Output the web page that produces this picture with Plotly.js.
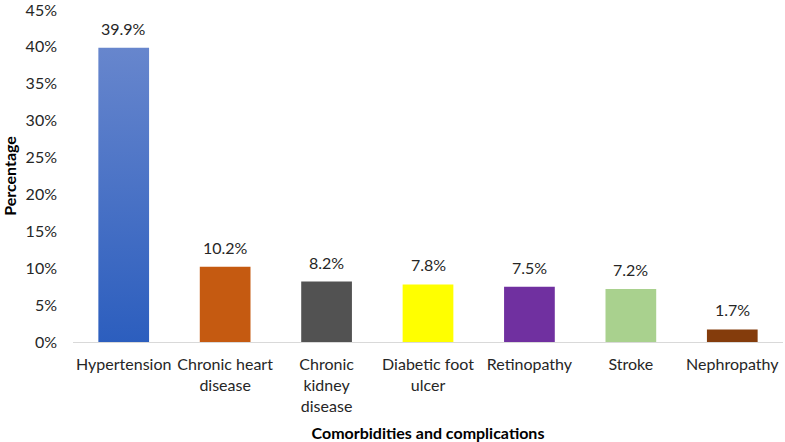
<!DOCTYPE html>
<html><head><meta charset="utf-8">
<script src="https://cdn.plot.ly/plotly-3.0.1.min.js"></script>
<style>html,body{margin:0;padding:0;background:#fff}#chart{width:785px;height:442px}</style>
</head><body><div id="chart"></div>
<script>
const categories = ["Hypertension", "Chronic heart<br>disease", "Chronic<br>kidney<br>disease", "Diabetic foot<br>ulcer", "Retinopathy", "Stroke", "Nephropathy"];
const values = [39.9, 10.2, 8.2, 7.8, 7.5, 7.2, 1.7];
const valueLabels = ["39.9%", "10.2%", "8.2%", "7.8%", "7.5%", "7.2%", "1.7%"];
const barColors = ["#4a76cc", "#c55a11", "#525252", "#ffff00", "#7030a0", "#a9d18e", "#843c0c"];
const tickVals = [0, 5, 10, 15, 20, 25, 30, 35, 40, 45];
const tickText = ["0%", "5%", "10%", "15%", "20%", "25%", "30%", "35%", "40%", "45%"];

const font = {family: "Lato, 'Open Sans', sans-serif", size: 16, color: "#262626"};
const titleFont = {family: font.family, size: 16, color: "#000"};

const trace = {
  type: "bar", x: categories, y: values,
  marker: {color: barColors, line: {width: 0}},
  hoverinfo: "none"
};
const annotations = categories.map((c, i) => ({
  x: c, y: values[i], text: valueLabels[i], showarrow: false,
  yanchor: "bottom", yshift: 8, font: font
}));
const layout = {
  width: 785, height: 442,
  margin: {l: 73, r: 2, t: 10, b: 100},
  paper_bgcolor: "#fff", plot_bgcolor: "#fff",
  font: font, showlegend: false, bargap: 0.5,
  xaxis: {showline: true, linecolor: "#d9d9d9", linewidth: 1, ticks: "outside", ticklen: 8,
    tickcolor: "rgba(0,0,0,0)", tickfont: font,
    title: {text: "<b>Comorbidities and complications</b>", font: titleFont, standoff: 14}},
  yaxis: {range: [0, 45], tickvals: tickVals, ticktext: tickText, showgrid: false, zeroline: false,
    showline: false, ticks: "", tickfont: font, ticklabelstandoff: 15, ticklabeloverflow: "allow",
    title: {text: "<b>Percentage</b>", font: titleFont, standoff: 6}},
  annotations: annotations
};
Plotly.newPlot("chart", [trace], layout, {displayModeBar: false, staticPlot: true}).then(gd => {
  const svg = gd.querySelector("svg.main-svg");
  const ns = "http://www.w3.org/2000/svg";
  let defs = svg.querySelector("defs");
  const g = document.createElementNS(ns, "linearGradient");
  g.setAttribute("id", "blueGrad"); g.setAttribute("x1", "0"); g.setAttribute("y1", "0");
  g.setAttribute("x2", "0"); g.setAttribute("y2", "1");
  [["0%", "#6786cd"], ["100%", "#2c5ebe"]].forEach(([o, c]) => {
    const s = document.createElementNS(ns, "stop");
    s.setAttribute("offset", o); s.setAttribute("stop-color", c); g.appendChild(s);
  });
  defs.appendChild(g);
  const bar = gd.querySelector(".bars .point path");
  if (bar) bar.style.fill = "url(#blueGrad)";
});
</script></body></html>
